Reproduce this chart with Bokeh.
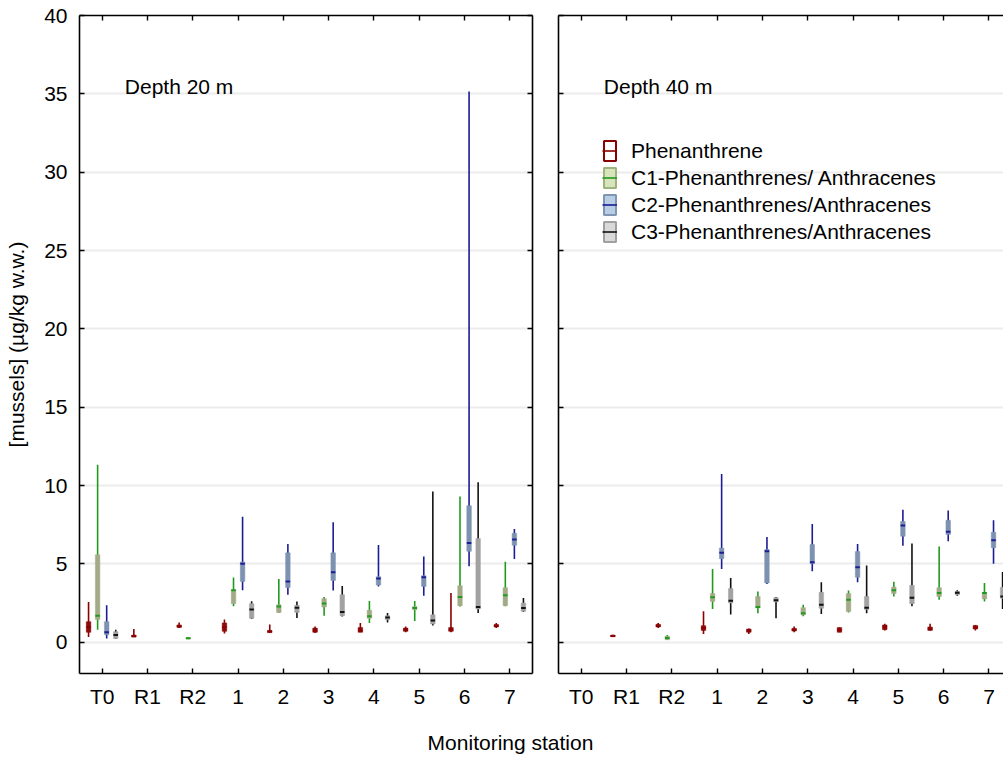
from bokeh.plotting import figure
from bokeh.models import (ColumnDataSource, Range1d, FixedTicker, LinearAxis, Label,
                          Legend, LegendItem, Grid)
from bokeh.layouts import row, column
from bokeh.transform import dodge
from bokeh.embed import file_html
from bokeh.resources import INLINE

# ---------------- data ----------------
stations = ["T0", "R1", "R2", "1", "2", "3", "4", "5", "6", "7"]
y_ticks = [0, 5, 10, 15, 20, 25, 30, 35, 40]
compounds = ["Phenanthrene", "C1-Phenanthrenes/ Anthracenes",
             "C2-Phenanthrenes/Anthracenes", "C3-Phenanthrenes/Anthracenes"]
depth_titles = ["Depth 20 m", "Depth 40 m"]

# (min, q1, median, q3, max) per station; None = no data
phen_20 = [(0.33, 0.63, 0.97, 1.31, 2.57), (0.33, 0.33, 0.38, 0.45, 0.84), (0.90, 0.95, 1.00, 1.10, 1.26),
           (0.56, 0.69, 0.95, 1.23, 1.44), (0.59, 0.61, 0.68, 0.75, 1.12), (0.59, 0.63, 0.75, 0.90, 1.00),
           (0.63, 0.63, 0.75, 0.94, 1.22), (0.63, 0.69, 0.80, 0.90, 1.00), (0.63, 0.69, 0.80, 0.94, 3.14),
           (0.90, 0.97, 1.05, 1.12, 1.23)]
c1_20 = [(0.80, 1.44, 1.69, 5.58, 11.33), None, (0.20, 0.20, 0.25, 0.29, 0.33),
         (2.29, 2.46, 3.31, 3.35, 4.12), (1.86, 1.90, 2.28, 2.39, 4.03), (1.69, 2.24, 2.47, 2.77, 2.88),
         (1.22, 1.52, 1.65, 2.03, 2.62), (1.35, 2.07, 2.18, 2.28, 2.63), (2.28, 2.33, 2.88, 3.60, 9.30),
         (2.29, 2.33, 2.99, 3.48, 5.14)]
c2_20 = [(0.24, 0.48, 0.63, 1.31, 2.35), None, None,
         (3.31, 3.88, 5.01, 5.12, 8.01), (3.03, 3.49, 3.88, 5.70, 6.26), (3.30, 3.94, 4.47, 5.70, 7.66),
         (3.56, 3.65, 4.07, 4.18, 6.21), (2.96, 3.56, 4.15, 4.24, 5.47), (4.84, 5.80, 6.33, 8.71, 35.15),
         (5.31, 6.18, 6.55, 6.95, 7.23)]
c3_20 = [(0.20, 0.24, 0.46, 0.67, 0.80), None, None,
         (1.48, 1.52, 2.08, 2.46, 2.61), (1.54, 1.90, 2.20, 2.35, 2.60), (1.64, 1.69, 1.92, 3.03, 3.58),
         (1.26, 1.43, 1.58, 1.69, 1.86), (1.07, 1.16, 1.39, 1.75, 9.61), (1.86, 2.12, 2.25, 6.61, 10.20),
         (1.93, 1.97, 2.18, 2.50, 2.82)]

phen_40 = [None, (0.33, 0.35, 0.40, 0.45, 0.48), (0.90, 0.97, 1.05, 1.14, 1.23),
           (0.52, 0.75, 0.90, 1.05, 1.97), (0.52, 0.63, 0.73, 0.84, 0.88), (0.63, 0.71, 0.80, 0.88, 1.00),
           (0.63, 0.63, 0.78, 0.93, 0.94), (0.75, 0.80, 0.97, 1.10, 1.18), (0.75, 0.75, 0.86, 0.97, 1.18),
           (0.75, 0.84, 0.95, 1.07, 1.10)]
c1_40 = [None, None, (0.14, 0.16, 0.27, 0.37, 0.46),
         (2.12, 2.60, 2.86, 3.10, 4.67), (1.84, 2.18, 2.25, 2.92, 3.24), (1.65, 1.74, 1.84, 2.20, 2.39),
         (1.90, 1.95, 2.71, 3.10, 3.29), (2.92, 3.10, 3.31, 3.52, 3.86), (2.71, 2.92, 3.14, 3.48, 6.10),
         (2.60, 2.76, 3.14, 3.18, 3.78)]
c2_40 = [None, None, None,
         (4.67, 5.33, 5.70, 6.01, 10.74), (3.72, 3.78, 5.80, 5.91, 6.72), (4.52, 5.01, 5.10, 6.23, 7.55),
         (3.82, 4.14, 4.78, 5.78, 6.27), (6.16, 6.76, 7.44, 7.71, 8.46), (6.44, 6.87, 7.04, 7.78, 8.40),
         (5.01, 6.03, 6.50, 7.01, 7.78)]
c3_40 = [None, None, None,
         (1.76, 2.50, 2.65, 3.42, 4.10), (1.52, 2.57, 2.67, 2.84, 2.88), (1.80, 2.16, 2.39, 3.18, 3.82),
         (1.84, 2.08, 2.20, 2.92, 4.89), (2.29, 2.46, 2.84, 3.63, 6.29), (2.97, 3.03, 3.16, 3.24, 3.31),
         (2.12, 2.80, 2.92, 3.50, 4.48)]

series = [[phen_20, c1_20, c2_20, c3_20], [phen_40, c1_40, c2_40, c3_40]]

# ---------------- styles ----------------
FONT = "Liberation Sans"
FS = "21px"
line_colors = ["#8b0000", "#1f9a1f", "#1c1c94", "#111111"]
box_colors = ["#8b0a0a", "#a3aa87", "#7d92b0", "#a2a2a2"]
leg_fill = ["#ffffff", "#d8e4bc", "#b9cde5", "#d9d9d9"]
leg_line = ["#8b0000", "#9db57c", "#7f96b4", "#a0a0a0"]
offsets = [-0.3, -0.1, 0.1, 0.3]
BOXW = 0.1
NAN = float("nan")


def style_axis(ax):
    ax.axis_line_color = "black"
    ax.axis_line_width = 1.6
    ax.major_tick_line_color = "black"
    ax.major_tick_line_width = 1.4
    ax.major_tick_in = 5
    ax.major_tick_out = 0
    ax.minor_tick_in = 0
    ax.minor_tick_out = 0
    ax.major_label_text_font = FONT
    ax.major_label_text_font_size = FS
    ax.major_label_text_color = "black"
    ax.axis_label_text_font = FONT
    ax.axis_label_text_font_size = FS
    ax.axis_label_text_font_style = "normal"
    ax.axis_label_text_color = "black"


def make_panel(idx, width, mb_left, mb_right, x_end, left_labels, right_axis):
    p = figure(width=width, height=715, x_range=Range1d(-0.5, x_end), y_range=Range1d(-2, 40),
               output_backend="svg", toolbar_location=None,
               x_axis_location=None, y_axis_location=None,
               min_border_left=mb_left, min_border_right=mb_right,
               min_border_top=15, min_border_bottom=42, outline_line_color=None,
               background_fill_color="white", border_fill_color="white")
    p.grid.visible = False
    xt = FixedTicker(ticks=list(range(len(stations))))
    yt = FixedTicker(ticks=y_ticks)
    p.add_layout(Grid(dimension=1, ticker=FixedTicker(ticks=y_ticks[:-1]),
                      grid_line_color="#ececec", grid_line_width=2))

    bottom = LinearAxis(ticker=xt, major_label_overrides={i: s for i, s in enumerate(stations)},
                        major_label_standoff=11)
    style_axis(bottom)
    p.add_layout(bottom, "below")
    top = LinearAxis(ticker=xt, major_label_overrides={i: "" for i in range(len(stations))},
                     major_label_standoff=0)
    style_axis(top)
    p.add_layout(top, "above")
    if left_labels:
        left = LinearAxis(ticker=yt, major_label_standoff=12,
                          axis_label="[mussels] (\u00b5g/kg w.w.)", axis_label_standoff=13)
    else:
        left = LinearAxis(ticker=yt, major_label_overrides={t: "" for t in y_ticks},
                          major_label_standoff=0)
    style_axis(left)
    p.add_layout(left, "left")
    if right_axis:
        right = LinearAxis(ticker=yt, major_label_overrides={t: "" for t in y_ticks},
                           major_label_standoff=0)
        style_axis(right)
        p.add_layout(right, "right")

    for k in range(4):
        data = series[idx][k]
        xs = [i for i, d in enumerate(data) if d is not None]
        vals = [d for d in data if d is not None]
        src = ColumnDataSource(dict(
            x=xs,
            lo=[v[0] for v in vals], q1=[v[1] for v in vals], med=[v[2] for v in vals],
            q3=[v[3] for v in vals], hi=[v[4] for v in vals]))
        off = offsets[k]
        p.segment(x0=dodge("x", off), y0="lo", x1=dodge("x", off), y1="hi", source=src,
                  line_color=line_colors[k], line_width=1.6)
        p.vbar(x=dodge("x", off), width=BOXW, bottom="q1", top="q3", source=src,
               fill_color=box_colors[k], line_color=box_colors[k], line_width=0.5)
        p.segment(x0=dodge("x", off - BOXW / 2), y0="med", x1=dodge("x", off + BOXW / 2), y1="med",
                  source=src, line_color=line_colors[k], line_width=2)

    p.add_layout(Label(x=0.5, y=35.5, text=depth_titles[idx], text_font=FONT, text_font_size=FS,
                       text_baseline="middle", text_color="black"))
    return p


p1 = make_panel(0, 545, 79, 13, 9.5, True, True)
p2 = make_panel(1, 458, 13, 0, 9.32, False, False)

# legend (drawn in the right panel); NaN rows draw nothing in the plot itself
items = []
for k in range(4):
    r1 = p2.quad(left=[NAN], right=[NAN], top=[NAN], bottom=[NAN], fill_color=leg_fill[k],
                 line_color=leg_line[k], line_width=2)
    r2 = p2.segment(x0=[NAN], y0=[NAN], x1=[NAN], y1=[NAN], line_color=line_colors[k],
                    line_width=1.6)
    items.append(LegendItem(label=compounds[k], renderers=[r1, r2]))
legend = Legend(items=items, location=(44, 429), padding=0, margin=0,
                border_line_color=None, background_fill_alpha=0, border_line_alpha=0,
                glyph_width=15, glyph_height=25, label_height=20, label_standoff=14, spacing=2,
                label_text_font=FONT, label_text_font_size=FS, label_text_color="black")
p2.add_layout(legend)

# common x title
p3 = figure(width=1003, height=42, x_range=Range1d(0, 1003), y_range=Range1d(0, 42),
            output_backend="svg", toolbar_location=None, x_axis_location=None,
            y_axis_location=None, min_border=0, outline_line_color=None)
p3.grid.visible = False
p3.add_layout(Label(x=510, y=15, text="Monitoring station", text_font=FONT, text_font_size=FS,
                    text_align="center", text_baseline="middle", text_color="black"))

layout = column(row(p1, p2), p3)
open("out.html", "w").write(file_html(layout, INLINE))
